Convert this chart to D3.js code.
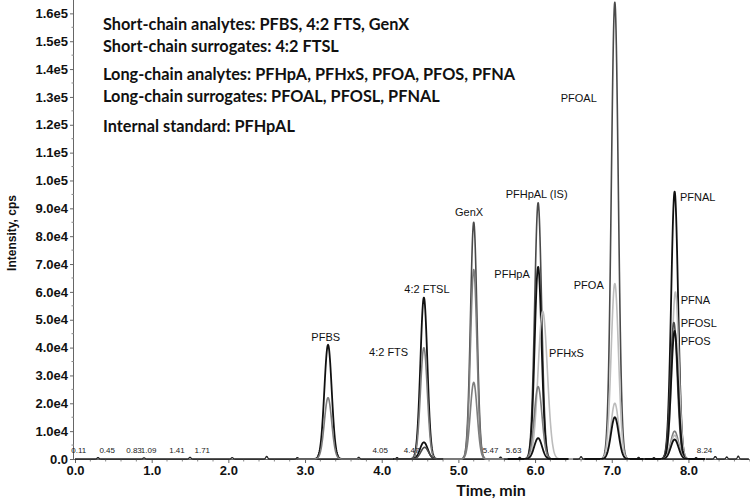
<!DOCTYPE html>
<html>
<head>
<meta charset="utf-8">
<script src="https://cdn.jsdelivr.net/npm/d3@7/dist/d3.min.js"></script>
<style>
  body { margin: 0; background: #fff; }
  svg { display: block; }
</style>
</head>
<body>
<div id="chart"></div>
<script>
// peaks (retention time in min, height in cps, peak sigma in min)
const peakTimes   = [3.30, 3.30, 4.55, 4.55, 4.55, 4.56, 5.20, 5.20, 5.20, 6.04, 6.04, 6.10, 6.04, 6.04, 7.04, 7.04, 7.04, 7.04, 7.82, 7.83, 7.81, 7.82, 7.82, 7.82, 7.82];
const peakHeights = [41000, 22000, 58000, 40000, 6000, 4200, 85000, 68000, 27500, 92000, 69000, 53000, 26000, 7500, 164000, 63000, 20000, 15000, 96000, 60000, 49000, 46000, 10000, 8500, 7000];
const peakSigmas  = [0.048, 0.048, 0.045, 0.045, 0.05, 0.05, 0.042, 0.042, 0.045, 0.045, 0.045, 0.06, 0.05, 0.05, 0.045, 0.048, 0.05, 0.05, 0.045, 0.045, 0.045, 0.045, 0.05, 0.05, 0.05];
const peakTones   = ["black", "mid", "black", "mid", "black", "dark", "dark", "mid", "mid", "dark", "black", "light", "mid", "black", "dark", "light", "light", "black", "black", "light", "dark", "black", "mid", "light", "black"];

// small baseline blips
const noiseTimes   = [0.3, 0.9, 1.5, 2.05, 2.5, 2.9, 3.7, 4.2, 5.55, 5.8, 6.6, 6.9, 7.35, 7.55, 8.1, 8.35, 8.5, 8.65];
const noiseHeights = [500, 400, 600, 500, 900, 500, 600, 500, 700, 600, 800, 500, 600, 500, 500, 900, 700, 1000];

// peak annotations (time, intensity)
const peakLabels      = ["PFBS", "4:2 FTSL", "4:2 FTS", "GenX", "PFHpAL (IS)", "PFHpA", "PFHxS", "PFOA", "PFOAL", "PFNAL", "PFNA", "PFOSL", "PFOS"];
const peakLabelTimes  = [3.27, 4.59, 4.09, 5.14, 6.02, 5.70, 6.41, 6.70, 6.57, 7.89, 7.90, 7.90, 7.90];
const peakLabelValues = [43800, 61000, 38400, 88700, 95000, 66400, 38000, 62500, 129600, 94000, 57000, 48800, 42400];
const peakLabelAlign  = ["middle", "middle", "middle", "middle", "middle", "middle", "middle", "middle", "middle", "start", "start", "start", "start"];

// retention time marks on the baseline
const rtMarks     = ["0.11", "0.45", "0.83", "1.09", "1.41", "1.71", "4.05", "4.47", "5.47", "5.63", "8.24"];
const rtMarkTimes = [0.05, 0.42, 0.77, 0.96, 1.33, 1.66, 3.98, 4.39, 5.42, 5.72, 8.21];

const legendLines = [
  "Short-chain analytes: PFBS, 4:2 FTS, GenX",
  "Short-chain surrogates: 4:2 FTSL",
  "Long-chain analytes: PFHpA, PFHxS, PFOA, PFOS, PFNA",
  "Long-chain surrogates: PFOAL, PFOSL, PFNAL",
  "Internal standard: PFHpAL"
];

const xTicks = [0, 1, 2, 3, 4, 5, 6, 7, 8];
const yTicks = d3.range(0, 170000, 10000);

const width = 750, height = 503;
const svg = d3.select("#chart").append("svg")
    .attr("width", width)
    .attr("height", height);

const x = d3.scaleLinear().domain([0, 8.79]).range([75, 749]);
const y = d3.scaleLinear().domain([0, 164800]).range([459, 0]);

const tone = d3.scaleOrdinal()
    .domain(["black", "dark", "mid", "light"])
    .range(["#111", "#4a4a4a", "#7d7d7d", "#bcbcbc"]);
const toneWidth = { black: 1.8, dark: 1.6, mid: 1.6, light: 1.6 };

// axes
const yAxis = d3.axisLeft(y)
    .tickValues(yTicks)
    .tickSize(4)
    .tickFormat(d => d === 0 ? "0.0" : d3.format(".1e")(d).replace("+", ""));
const gy = svg.append("g")
    .attr("transform", "translate(74,0)")
    .call(yAxis);
gy.select(".domain").attr("stroke", "#666").attr("d", "M-0.5,0V459.5");
gy.selectAll(".tick line").attr("stroke", "#666");
gy.selectAll(".tick text")
    .attr("x", -6)
    .style("font-family", "Liberation Sans, Arial, sans-serif")
    .style("font-weight", "bold")
    .style("font-size", "13px")
    .attr("fill", "#111");

// y minor ticks
svg.append("g").selectAll("line")
    .data(d3.range(5000, 165000, 10000))
    .enter().append("line")
    .attr("x1", 71.5).attr("x2", 74)
    .attr("y1", d => y(d)).attr("y2", d => y(d))
    .attr("stroke", "#888");

const xAxis = d3.axisBottom(x)
    .tickValues(xTicks)
    .tickSize(4)
    .tickFormat(d3.format(".1f"));
const gx = svg.append("g")
    .attr("transform", "translate(0,459)")
    .call(xAxis);
gx.select(".domain").attr("stroke", "#666").attr("d", "M74,0.5H750");
gx.selectAll(".tick line").attr("stroke", "#666");
gx.selectAll(".tick text")
    .attr("y", 7)
    .style("font-family", "Liberation Sans, Arial, sans-serif")
    .style("font-weight", "bold")
    .style("font-size", "13px")
    .attr("fill", "#111");

// x minor ticks
svg.append("g").selectAll("line")
    .data(d3.range(0.2, 8.8, 0.2).filter(t => Math.abs(t - Math.round(t)) > 0.05))
    .enter().append("line")
    .attr("x1", d => x(d)).attr("x2", d => x(d))
    .attr("y1", 459).attr("y2", 461.5)
    .attr("stroke", "#888");

// axis titles
svg.append("text")
    .attr("transform", "translate(16,233) rotate(-90)")
    .attr("text-anchor", "middle")
    .style("font-family", "Liberation Sans, Arial, sans-serif")
    .style("font-weight", "bold")
    .style("font-size", "12px")
    .attr("fill", "#111")
    .text("Intensity, cps");

svg.append("text")
    .attr("x", 491).attr("y", 496)
    .attr("text-anchor", "middle")
    .style("font-family", "Lato, sans-serif")
    .style("font-weight", "bold")
    .style("font-size", "16px")
    .attr("fill", "#111")
    .text("Time, min");

// traces
const times = d3.range(0, 8.79, 0.004);
const line = d3.line()
    .x(d => x(d[0]))
    .y(d => y(d[1]));

// baseline trace with small noise
const baseline = times.map(t => {
  let v = 0;
  noiseTimes.forEach((nt, i) => { v += noiseHeights[i] * Math.exp(-0.5 * Math.pow((t - nt) / 0.012, 2)); });
  return [t, v];
});
svg.append("path")
    .datum(baseline)
    .attr("fill", "none")
    .attr("stroke", "#222")
    .attr("stroke-width", 1.3)
    .attr("d", line);

const peaks = peakTimes.map((t, i) => ({ t, h: peakHeights[i], s: peakSigmas[i], tone: peakTones[i] }));

svg.append("g").selectAll("path")
    .data(peaks)
    .enter().append("path")
    .attr("fill", "none")
    .attr("stroke", d => tone(d.tone))
    .attr("stroke-width", d => toneWidth[d.tone])
    .attr("stroke-linejoin", "round")
    .attr("d", d => line(times
        .filter(t => Math.abs(t - d.t) < 0.4)
        .map(t => [t, d.h * Math.exp(-0.5 * Math.pow((t - d.t) / d.s, 2))])));

// peak labels
svg.append("g").selectAll("text")
    .data(peakLabels)
    .enter().append("text")
    .attr("x", (d, i) => x(peakLabelTimes[i]))
    .attr("y", (d, i) => y(peakLabelValues[i]))
    .attr("dy", "0.35em")
    .attr("text-anchor", (d, i) => peakLabelAlign[i])
    .style("font-family", "Liberation Sans, Arial, sans-serif")
    .style("font-size", "11px")
    .attr("fill", "#111")
    .text(d => d);

// retention time marks
svg.append("g").selectAll("text")
    .data(rtMarks)
    .enter().append("text")
    .attr("x", (d, i) => x(rtMarkTimes[i]))
    .attr("y", 453)
    .attr("text-anchor", "middle")
    .style("font-family", "Liberation Sans, Arial, sans-serif")
    .style("font-size", "8px")
    .attr("fill", "#222")
    .text(d => d);

// legend block
svg.append("g").selectAll("text")
    .data(legendLines)
    .enter().append("text")
    .attr("x", 103)
    .attr("y", (d, i) => [30, 52, 80, 102, 132][i])
    .style("font-family", "Lato, sans-serif")
    .style("font-weight", "bold")
    .style("font-size", "16.3px")
    .attr("fill", "#111")
    .text(d => d);
</script>
</body>
</html>
